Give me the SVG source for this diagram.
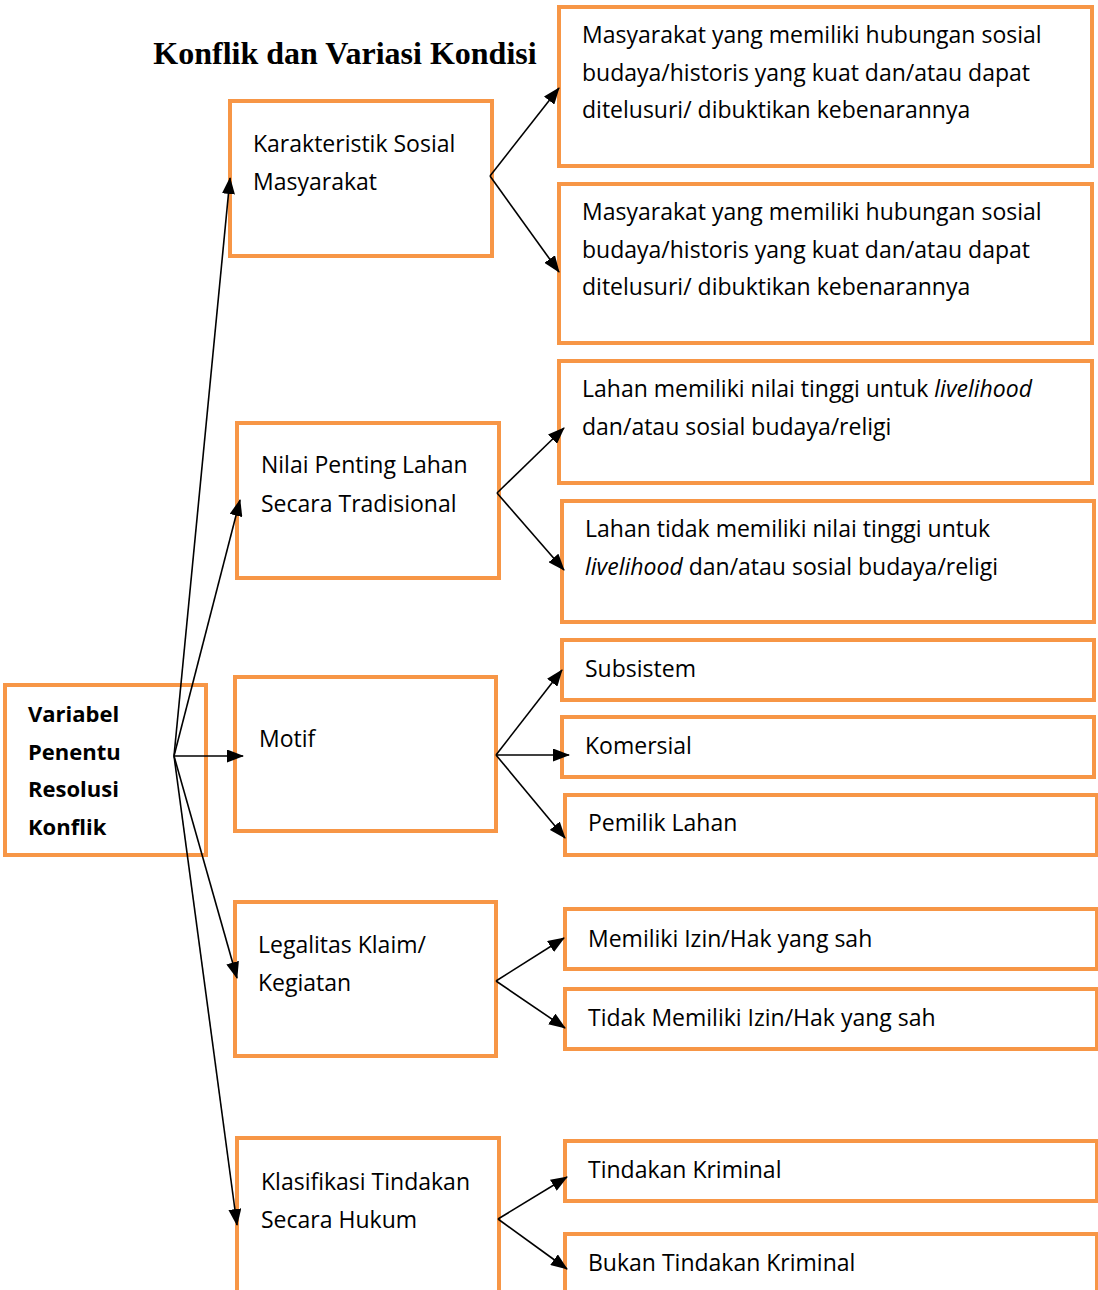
<svg xmlns="http://www.w3.org/2000/svg" width="1098" height="1290" viewBox="0 0 1098 1290">
<style>
.box{fill:#fff;stroke:#F79646;stroke-width:4}
.t{font-family:"Open Sans","Noto Sans",sans-serif;font-size:23px;fill:#000}
.b{font-weight:bold;font-size:22px}
.c{stroke:#000;stroke-width:1.6;fill:none;marker-end:url(#ah)}
.title{font-family:"Liberation Serif",serif;font-weight:bold;font-size:32px;fill:#000}
</style>
<defs>
<marker id="ah" markerUnits="userSpaceOnUse" markerWidth="17" markerHeight="13" refX="16" refY="6.5" orient="auto">
<path d="M0,0 L17,6.5 L0,13 Z" fill="#000"/>
</marker>
</defs>
<rect width="1098" height="1290" fill="#fff"/>
<text class="title" x="345" y="64" text-anchor="middle">Konflik dan Variasi Kondisi</text>

<g id="root"><rect class="box" x="5" y="685" width="201" height="170"/>
<text class="t b" x="28" y="722">Variabel</text><text class="t b" x="28" y="760">Penentu</text><text class="t b" x="28" y="797">Resolusi</text><text class="t b" x="28" y="835">Konflik</text></g>

<g id="karakteristik"><rect class="box" x="230" y="101" width="262" height="155"/>
<text class="t" x="253" y="152">Karakteristik Sosial</text><text class="t" x="253" y="190">Masyarakat</text></g>
<g id="k1"><rect class="box" x="559" y="7" width="533" height="159"/>
<text class="t" x="582" y="43">Masyarakat yang memiliki hubungan sosial</text><text class="t" x="582" y="81">budaya/historis yang kuat dan/atau dapat</text><text class="t" x="582" y="118">ditelusuri/ dibuktikan kebenarannya</text></g>
<g id="k2"><rect class="box" x="559" y="184" width="533" height="159"/>
<text class="t" x="582" y="220">Masyarakat yang memiliki hubungan sosial</text><text class="t" x="582" y="258">budaya/historis yang kuat dan/atau dapat</text><text class="t" x="582" y="295">ditelusuri/ dibuktikan kebenarannya</text></g>

<g id="nilai"><rect class="box" x="237" y="423" width="262" height="155"/>
<text class="t" x="261" y="473">Nilai Penting Lahan</text><text class="t" x="261" y="512">Secara Tradisional</text></g>
<g id="n1"><rect class="box" x="559" y="361" width="533" height="122"/>
<text class="t" x="582" y="397">Lahan memiliki nilai tinggi untuk <tspan font-style="italic">livelihood</tspan></text><text class="t" x="582" y="435">dan/atau sosial budaya/religi</text></g>
<g id="n2"><rect class="box" x="562" y="501" width="532" height="121"/>
<text class="t" x="585" y="537">Lahan tidak memiliki nilai tinggi untuk</text><text class="t" x="585" y="575"><tspan font-style="italic">livelihood</tspan> dan/atau sosial budaya/religi</text></g>

<g id="motif"><rect class="box" x="235" y="677" width="261" height="154"/>
<text class="t" x="259" y="747">Motif</text></g>
<g id="m1"><rect class="box" x="562" y="640" width="532" height="60"/><text class="t" x="585" y="677">Subsistem</text></g>
<g id="m2"><rect class="box" x="562" y="717" width="532" height="60"/><text class="t" x="585" y="754">Komersial</text></g>
<g id="m3"><rect class="box" x="565" y="795" width="532" height="60"/><text class="t" x="588" y="831">Pemilik Lahan</text></g>

<g id="legalitas"><rect class="box" x="235" y="902" width="261" height="154"/>
<text class="t" x="258" y="953">Legalitas Klaim/</text><text class="t" x="258" y="991">Kegiatan</text></g>
<g id="l1"><rect class="box" x="565" y="909" width="532" height="60"/><text class="t" x="588" y="947">Memiliki Izin/Hak yang sah</text></g>
<g id="l2"><rect class="box" x="565" y="989" width="532" height="60"/><text class="t" x="588" y="1026">Tidak Memiliki Izin/Hak yang sah</text></g>

<g id="klasifikasi"><rect class="box" x="237" y="1138" width="262" height="170"/>
<text class="t" x="261" y="1190">Klasifikasi Tindakan</text><text class="t" x="261" y="1228">Secara Hukum</text></g>
<g id="h1"><rect class="box" x="565" y="1141" width="532" height="60"/><text class="t" x="588" y="1178">Tindakan Kriminal</text></g>
<g id="h2"><rect class="box" x="565" y="1234" width="532" height="80"/><text class="t" x="588" y="1271">Bukan Tindakan Kriminal</text></g>

<g id="connectors">
<line class="c" x1="174" y1="756" x2="230" y2="178"/>
<line class="c" x1="174" y1="756" x2="240" y2="500"/>
<line class="c" x1="174" y1="756" x2="243" y2="756"/>
<line class="c" x1="174" y1="756" x2="237" y2="978"/>
<line class="c" x1="174" y1="756" x2="237" y2="1225"/>
<line class="c" x1="490" y1="176" x2="559" y2="88"/>
<line class="c" x1="490" y1="176" x2="559" y2="272"/>
<line class="c" x1="497" y1="493" x2="564" y2="428"/>
<line class="c" x1="497" y1="493" x2="564" y2="570"/>
<line class="c" x1="496" y1="755" x2="562" y2="670"/>
<line class="c" x1="496" y1="755" x2="569" y2="755"/>
<line class="c" x1="496" y1="755" x2="565" y2="838"/>
<line class="c" x1="496" y1="981" x2="564" y2="938"/>
<line class="c" x1="496" y1="981" x2="565" y2="1028"/>
<line class="c" x1="498" y1="1219" x2="567" y2="1177"/>
<line class="c" x1="498" y1="1219" x2="567" y2="1269"/>
</g>
</svg>
